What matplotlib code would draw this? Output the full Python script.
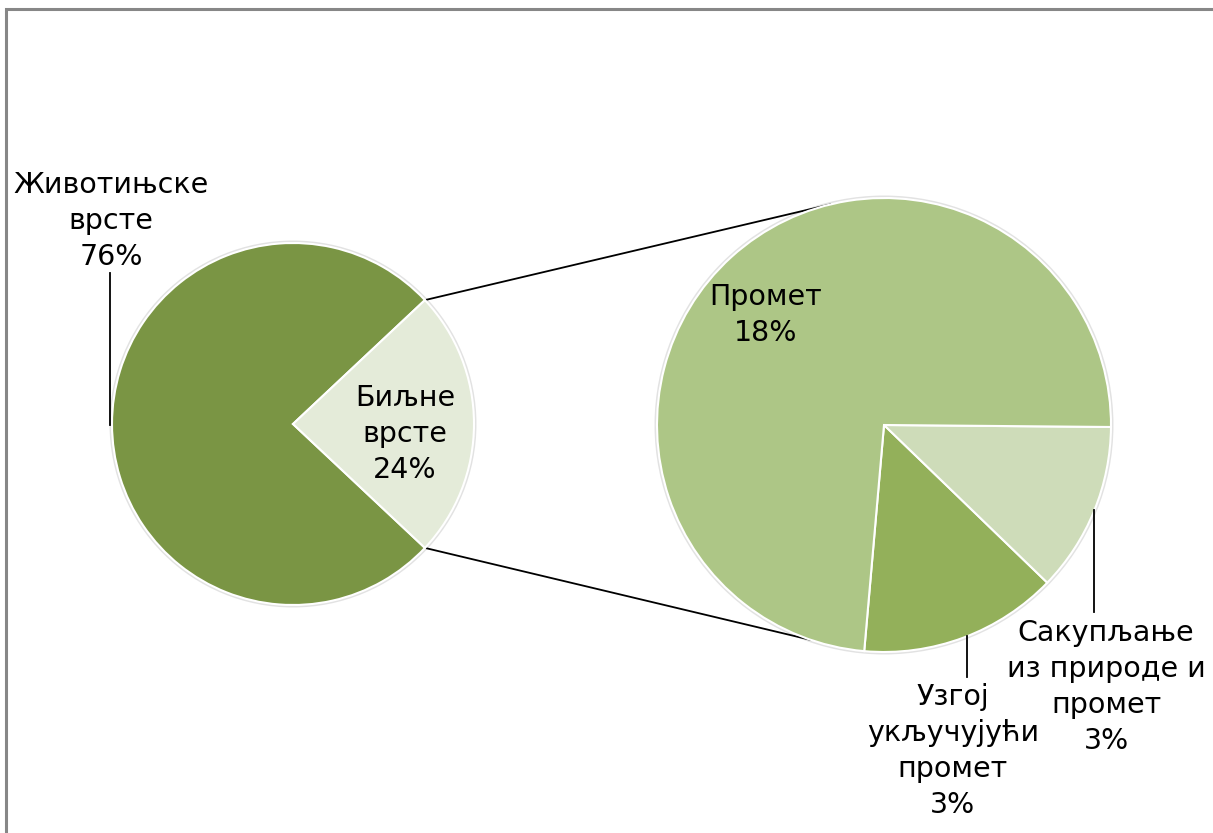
import numpy as np
import matplotlib
matplotlib.use("Agg")
import matplotlib.pyplot as plt
from matplotlib.patches import Circle, Rectangle

# main pie
main_labels = ["Животињске\nврсте", "Биљне\nврсте"]
main_values = [76, 24]
main_colors = ["#7A9544", "#E4EBD9"]

# breakdown of "Биљне врсте" (share of the total, %)
sub_labels = ["Узгој\nукључујући\nпромет", "Сакупљање\nиз природе и\nпромет", "Промет"]
sub_values = [3.4, 2.9, 17.7]
sub_colors = ["#93B05A", "#CEDCB9", "#ADC686"]

W, H = 1213, 833
fig = plt.figure(figsize=(W / 100, H / 100), dpi=100)
ax = fig.add_axes([0, 0, 1, 1])

FS = 20.5
TXT = dict(fontsize=FS, family="DejaVu Sans", color="black", ha="center",
           va="center", linespacing=1.36)

# centres / radii in pixel units (y measured from the bottom)
c1, r1 = (293, H - 424), 181
c2, r2 = (884, H - 425), 227

# soft grey rim like the original's shadow
for c, r in [(c1, r1), (c2, r2)]:
    ax.add_patch(Circle(c, r + 2.5, facecolor="#d0d0d0", edgecolor="none", alpha=0.6, zorder=0))

start1 = 360 * main_values[1] / sum(main_values) / 2
w1, _ = ax.pie(main_values, colors=main_colors, startangle=start1, center=c1, radius=r1,
               wedgeprops=dict(edgecolor="white", linewidth=1.5))
start2 = -95
w2, _ = ax.pie(sub_values, colors=sub_colors, startangle=start2, center=c2, radius=r2,
               wedgeprops=dict(edgecolor="white", linewidth=1.5))
for w in list(w1) + list(w2):
    w.set_zorder(2)

# connector lines between the two pies
for a1, a2 in [(start1, 103.7), (-start1, -108.7)]:
    p1 = (c1[0] + r1 * np.cos(np.radians(a1)), c1[1] + r1 * np.sin(np.radians(a1)))
    p2 = (c2[0] + r2 * np.cos(np.radians(a2)), c2[1] + r2 * np.sin(np.radians(a2)))
    ax.plot([p1[0], p2[0]], [p1[1], p2[1]], color="black", lw=1.3, zorder=1)

tot = sum(main_values)
sub_tot = sum(sub_values)
pct_main = [f"{v / tot * 100:.0f}%" for v in main_values]
pct_sub = [f"{v / sub_tot * main_values[1]:.0f}%" for v in sub_values]

# labels
ax.text(111, H - 221, f"{main_labels[0]}\n{pct_main[0]}", **TXT)
ax.plot([110, 110], [H - 273, H - 425], color="black", lw=1.3, zorder=3)
ax.text(405, H - 434, f"{main_labels[1]}\n{pct_main[1]}", zorder=4, **TXT)

ax.text(766, H - 315, f"{sub_labels[2]}\n{pct_sub[2]}", zorder=4, **TXT)
ax.text(953, H - 751, f"{sub_labels[0]}\n{pct_sub[0]}", **TXT)
ax.plot([967, 967], [H - 636, H - 677], color="black", lw=1.3, zorder=3)
ax.text(1106, H - 687, f"{sub_labels[1]}\n{pct_sub[1]}", **TXT)
ax.plot([1094, 1094], [H - 510, H - 612], color="black", lw=1.3, zorder=3)

ax.set_xlim(0, W)
ax.set_ylim(0, H)
ax.set_aspect("equal")
ax.axis("off")

# chart area frame (partly cut off in the original)
fig.patches.append(Rectangle((6 / W, -0.1), 1.2, (H - 9) / H + 0.1, transform=fig.transFigure,
                             fill=False, edgecolor="#878787", linewidth=2.2))

fig.savefig("out.png", dpi=100, facecolor="white")
